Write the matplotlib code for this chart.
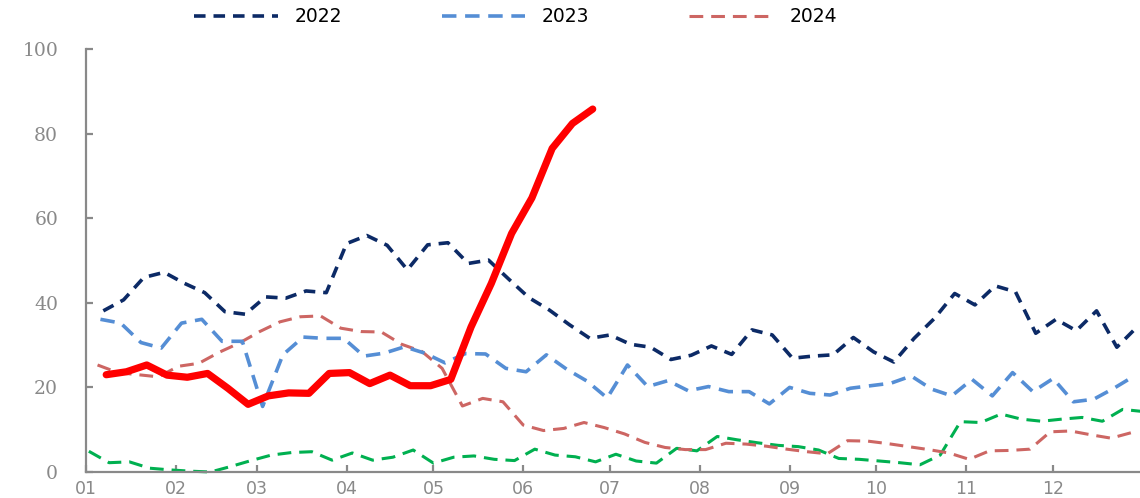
import numpy as np
import matplotlib
matplotlib.use("Agg")
import matplotlib.pyplot as plt

# weekly readings, first reading date of each series (month-day)
start_2021 = "01-02"
start_2022 = "01-07"
start_2023 = "01-06"
start_2024 = "01-05"
start_2025 = "01-08"

vals_2021 = [4.9, 2.2, 2.4, 0.9, 0.5, 0.2, 0.0, 1.3, 2.7, 4.0, 4.6, 4.8, 2.8,
             4.5, 2.8, 3.5, 5.2, 2.1, 3.5, 3.8, 3.0, 2.7, 5.4, 4.0, 3.6, 2.4,
             4.2, 2.6, 2.1, 5.6, 5.0, 8.4, 7.6, 6.9, 6.3, 6.0, 5.2, 3.2, 3.0,
             2.6, 2.2, 1.7, 4.0, 11.9, 11.7, 13.7, 12.5, 12.0, 12.5, 12.9,
             12.0, 14.8, 14.3]
vals_2022 = [38.1, 40.7, 46.0, 47.2, 44.6, 42.4, 37.9, 37.3, 41.4, 41.1, 42.8,
             42.4, 54.0, 55.9, 53.6, 47.8, 53.7, 54.2, 49.3, 50.1, 45.6, 41.2,
             38.3, 34.8, 31.6, 32.4, 30.2, 29.5, 26.6, 27.6, 29.8, 27.8, 33.6,
             32.4, 26.9, 27.4, 27.7, 31.8, 28.4, 26.0, 31.6, 36.3, 42.2, 39.5,
             44.0, 42.6, 32.8, 36.1, 33.4, 38.1, 29.5, 34.3]
vals_2023 = [36.1, 35.2, 30.6, 29.3, 35.2, 36.1, 30.9, 30.9, 15.5, 27.7, 31.9,
             31.6, 31.6, 27.4, 28.1, 29.6, 28.1, 25.8, 28.0, 27.9, 24.5, 23.7,
             27.7, 24.3, 21.5, 17.5, 25.3, 20.2, 21.6, 19.2, 20.2, 19.0, 19.0,
             16.1, 20.0, 18.6, 18.2, 19.8, 20.4, 21.0, 22.7, 19.6, 18.0, 21.9,
             18.0, 23.5, 19.0, 22.1, 16.6, 17.2, 19.8, 22.7]
vals_2024 = [25.3, 23.5, 23.0, 22.5, 25.0, 25.7, 28.3, 30.5, 33.2, 35.5, 36.7,
             36.9, 34.0, 33.2, 33.1, 30.2, 28.5, 24.5, 15.6, 17.4, 16.6, 11.1,
             9.8, 10.3, 11.7, 10.5, 9.0, 7.0, 5.8, 5.3, 5.3, 6.8, 6.6, 6.1,
             5.4, 4.8, 4.3, 7.4, 7.3, 6.7, 6.0, 5.3, 4.5, 3.0, 5.0, 5.1, 5.4,
             9.5, 9.7, 8.8, 8.0, 9.3]
vals_2025 = [23.0, 23.7, 25.3, 22.9, 22.4, 23.3, 19.8, 16.0, 18.0, 18.7, 18.6,
             23.3, 23.5, 20.9, 22.9, 20.4, 20.4, 21.9, 34.3, 44.6, 56.4, 64.8,
             76.5, 82.4, 85.8]

month_labels = ["01", "02", "03", "04", "05", "06",
                "07", "08", "09", "10", "11", "12"]
y_ticks = [0, 20, 40, 60, 80, 100]


def day_of_year(md):
    d = np.datetime64("2001-" + md)
    return int((d - np.datetime64("2001-01-01")) / np.timedelta64(1, "D"))


def weekly_x(md, vals):
    return day_of_year(md) + 7 * np.arange(len(vals))


month_days = [day_of_year(f"{m:02d}-01") for m in range(1, 13)]

fig = plt.figure(figsize=(11.4, 4.98), dpi=100)
ax = fig.add_axes([0.0754, 0.0522, 0.9246, 0.8494])

grey = "#898989"
l21, = ax.plot(weekly_x(start_2021, vals_2021), vals_2021, color="#00B050",
               lw=2.2, dashes=(4.5, 2.6), clip_on=False)
l24, = ax.plot(weekly_x(start_2024, vals_2024), vals_2024, color="#CD6663",
               lw=2.2, dashes=(4.5, 2.6), clip_on=False, label="2024")
l23, = ax.plot(weekly_x(start_2023, vals_2023), vals_2023, color="#558ED5",
               lw=2.6, dashes=(4.0, 2.4), clip_on=False, label="2023")
l22, = ax.plot(weekly_x(start_2022, vals_2022), vals_2022, color="#0C2A66",
               lw=2.6, dashes=(3.2, 2.2), clip_on=False, label="2022")
ax.plot(weekly_x(start_2025, vals_2025), vals_2025, color="#FF0000",
        lw=5.2, solid_capstyle="round", solid_joinstyle="round", zorder=5)

ax.set_xlim(0, 364)
ax.set_ylim(0, 100)

for s in ["top", "right"]:
    ax.spines[s].set_visible(False)
for s in ["left", "bottom"]:
    ax.spines[s].set_color(grey)
    ax.spines[s].set_linewidth(1.6)

ax.set_yticks(y_ticks)
ax.set_yticklabels([str(v) for v in y_ticks], family="DejaVu Serif",
                   fontsize=13.5, color=grey)
ax.set_xticks(month_days)
ax.set_xticklabels(month_labels, family="DejaVu Sans", fontsize=12.5,
                   color=grey)
ax.tick_params(axis="y", direction="in", length=5, width=1.6, color=grey,
               pad=20)
ax.tick_params(axis="x", direction="in", length=5, width=1.6, color=grey,
               pad=6)

fs = 13.5
fig.legend(handles=[l22, l23, l24], loc="center left",
           bbox_to_anchor=(0.164, 0.966), bbox_transform=fig.transFigure,
           ncol=3, frameon=False, fontsize=fs, handlelength=4.45,
           handletextpad=0.9, columnspacing=5.3, borderaxespad=0)

fig.savefig("out.png", dpi=100)
